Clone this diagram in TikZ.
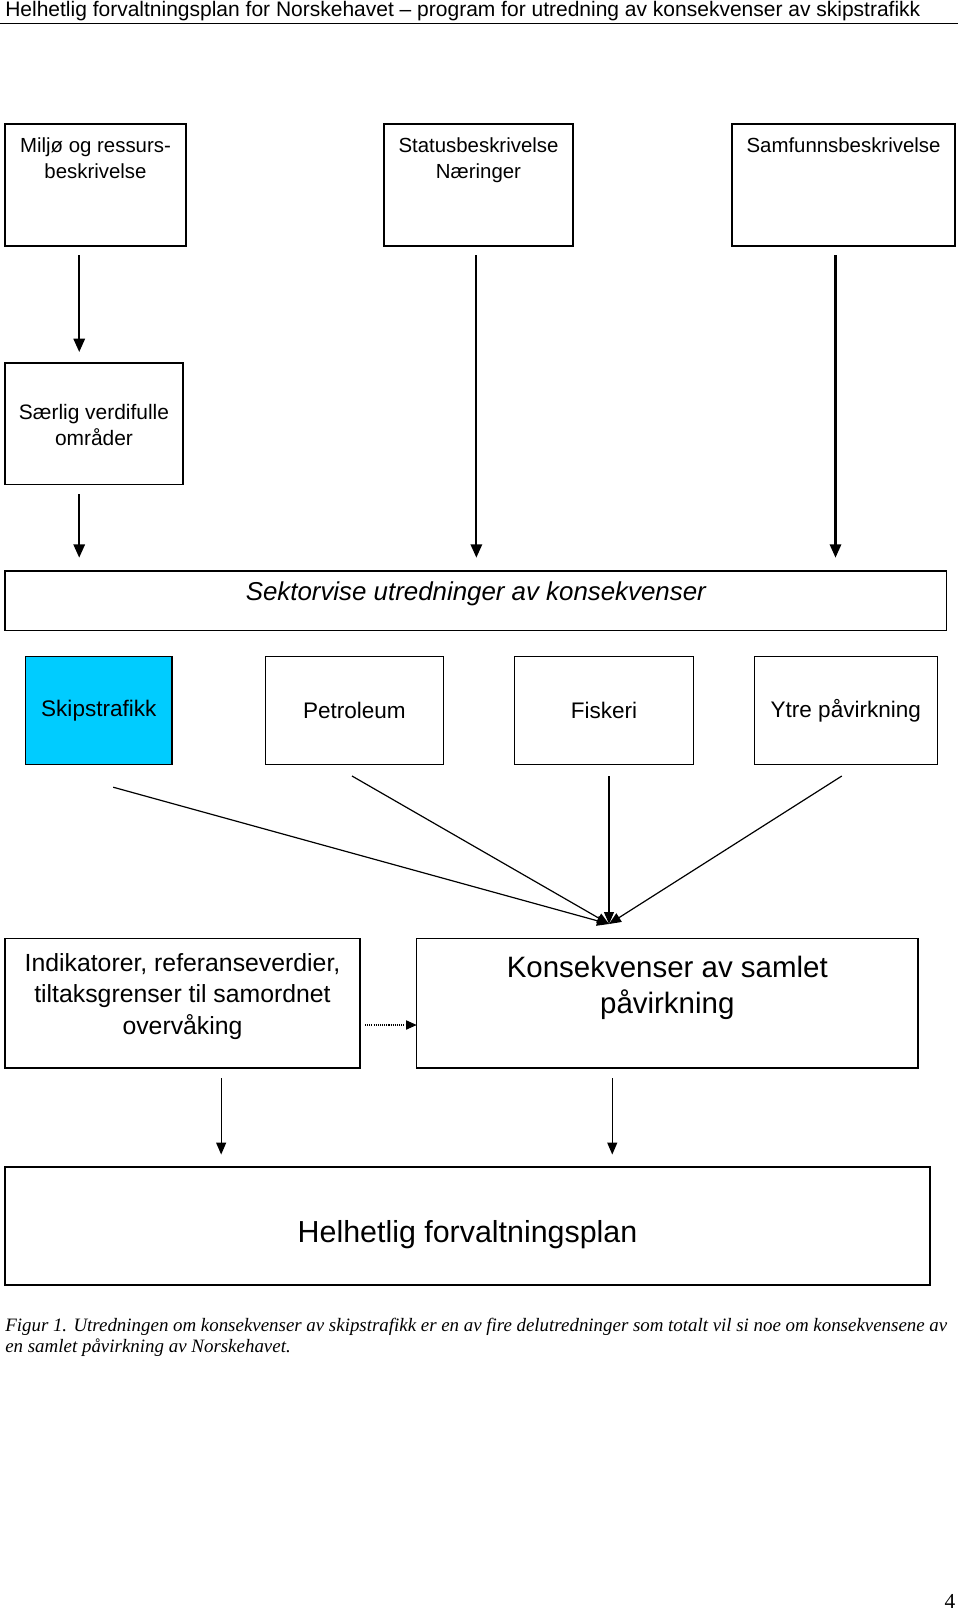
\documentclass[tikz,border=0pt]{standalone}
\usepackage{fontspec}
\setmainfont{Liberation Sans}
\newfontfamily\serifcap{Liberation Serif}
\usetikzlibrary{positioning,arrows.meta}
\definecolor{skyblue}{RGB}{0,204,255}

\begin{document}
\begin{tikzpicture}[
    box/.style={draw,line width=1.1pt,inner sep=0pt,outer sep=0pt,anchor=north west},
    intxt/.style={anchor=north,align=center,inner sep=0pt},
    small/.style={font=\fontsize{15.3}{19.3}\selectfont},
    heavy/.style={line width=1.6pt,-{Triangle[length=10pt,width=8.5pt]}},
    light/.style={line width=0.9pt,-{Triangle[length=9pt,width=7.5pt]}},
    dotarr/.style={line width=0.8pt,dash pattern=on 0.8pt off 0.8pt,-{Triangle[length=8pt,width=7pt]}}]
    \useasboundingbox (0,0) rectangle (720pt,-1209.75pt);
    \node[anchor=west,inner sep=0pt,font=\fontsize{15.75}{18}\selectfont] (title) at (3.75pt,-8.5pt)
      {Helhetlig forvaltningsplan for Norskehavet -- program for utredning av konsekvenser av skipstrafikk};
    \draw[line width=1.1pt] (0,-17.8pt) -- (718.5pt,-17.8pt);
    \node[box,minimum width=135.75pt,minimum height=91.5pt,
      label={[intxt,small,yshift=-10pt]north:{Miljø og ressurs-\\beskrivelse}}] (miljo) at (3.75pt,-93pt) {};
    \node[box,right=148.5pt of miljo.north east,anchor=north west,minimum width=141.75pt,minimum height=91.5pt,
      label={[intxt,small,yshift=-10pt]north:{Statusbeskrivelse\\Næringer}}] (status) {};
    \node[box,right=119.25pt of status.north east,anchor=north west,minimum width=167.25pt,minimum height=91.5pt,
      label={[intxt,small,yshift=-10pt]north:{Samfunnsbeskrivelse}}] (samfunn) {};
    \node[box,below=87.75pt of miljo.south west,anchor=north west,minimum width=133.5pt,minimum height=91.25pt,
      label={[anchor=center,align=center,inner sep=0pt,yshift=-1pt,font=\fontsize{15.7}{19.4}\selectfont]center:{Særlig verdifulle\\områder}}] (saerlig) {};
    \node[box,below=64.75pt of saerlig.south west,anchor=north west,minimum width=706.25pt,minimum height=44.75pt,
      label={[intxt,yshift=-7.6pt,font=\fontsize{19.4}{23}\selectfont\itshape]north:{Sektorvise utredninger av konsekvenser}}] (sektor) {};
    \node[box,below right=19.4pt and 15.55pt of sektor.south west,minimum width=109.6pt,minimum height=81pt,
      fill=skyblue,font=\fontsize{16.9}{20}\selectfont] (skip) {Skipstrafikk};
    \node[box,right=70.1pt of skip.north east,anchor=north west,minimum width=133.6pt,minimum height=81pt,
      font=\fontsize{16.9}{20}\selectfont] (petro) {Petroleum};
    \node[box,right=53.3pt of petro.north east,anchor=north west,minimum width=134.2pt,minimum height=81pt,
      font=\fontsize{16.9}{20}\selectfont] (fiske) {Fiskeri};
    \node[box,right=45.6pt of fiske.north east,anchor=north west,minimum width=137.3pt,minimum height=81pt,
      font=\fontsize{16.9}{20}\selectfont] (ytre) {Ytre påvirkning};
    \node[box,below=230.8pt of sektor.south west,anchor=north west,minimum width=266.25pt,minimum height=97.2pt,
      label={[anchor=center,align=center,inner sep=0pt,yshift=5pt,font=\fontsize{18.6}{23.3}\selectfont]center:{Indikatorer, referanseverdier,\\tiltaksgrenser til samordnet\\overvåking}}] (indik) {};
    \node[box,right=42.5pt of indik.north east,anchor=north west,minimum width=375.9pt,minimum height=97.2pt,
      label={[intxt,yshift=-13.3pt,font=\fontsize{22.1}{27}\selectfont]north:{Konsekvenser av samlet\\påvirkning}}] (kons) {};
    \node[box,below=74.25pt of indik.south west,anchor=north west,minimum width=693.75pt,minimum height=88.5pt,
      label={[anchor=center,inner sep=0pt,yshift=-6.6pt,font=\fontsize{22.8}{27}\selectfont]center:{Helhetlig forvaltningsplan}}] (helhet) {};
    \node[below=24.8pt of helhet.south west,anchor=north west,inner sep=0pt,align=left,
      font=\serifcap\itshape\fontsize{14.2}{15.9}\selectfont] (figur)
      {\makebox[706.5pt][s]{Figur 1. Utredningen om konsekvenser av skipstrafikk er en av fire delutredninger som totalt vil si noe om konsekvensene av}\\
       en samlet påvirkning av Norskehavet.};
    \node[inner sep=0pt,font=\serifcap\fontsize{16}{18}\selectfont] (side) at (712.5pt,-1201pt) {4};
    \coordinate (meet) at ([xshift=-43.7pt,yshift=10.8pt]kons.north);
    \draw[heavy,shorten <=6.75pt,shorten >=8.25pt] ([xshift=-12.2pt]miljo.south) -- ([xshift=-12.2pt]miljo.south |- saerlig.north);
    \draw[heavy,shorten <=7pt,shorten >=10pt] ([xshift=-11.1pt]saerlig.south) -- ([xshift=-11.1pt]saerlig.south |- sektor.north);
    \draw[heavy,shorten <=6.75pt,shorten >=10pt] ([xshift=-1.6pt]status.south) -- ([xshift=-1.6pt]status.south |- sektor.north);
    \draw[heavy,shorten <=6.75pt,shorten >=10pt] ([xshift=-6pt]samfunn.south) -- ([xshift=-6pt]samfunn.south |- sektor.north);
    \draw[light] ([xshift=10.8pt,yshift=-17pt]skip.south) -- (meet);
    \draw[light] ([xshift=-1.8pt,yshift=-8.6pt]petro.south) -- (meet);
    \draw[light] ([xshift=3.75pt,yshift=-8.6pt]fiske.south) -- (meet);
    \draw[light] ([xshift=-3pt,yshift=-8.6pt]ytre.south) -- (meet);
    \draw[dotarr] ([xshift=3.75pt,yshift=-16.35pt]indik.east) -- ([yshift=-16.35pt]indik.east -| kons.west);
    \draw[light,shorten <=7.5pt,shorten >=9.35pt] ([xshift=29pt]indik.south) -- ([xshift=29pt]indik.south |- helhet.north);
    \draw[light,shorten <=7.5pt,shorten >=9.35pt] ([xshift=-41.25pt]kons.south) -- ([xshift=-41.25pt]kons.south |- helhet.north);
\end{tikzpicture}
\end{document}
